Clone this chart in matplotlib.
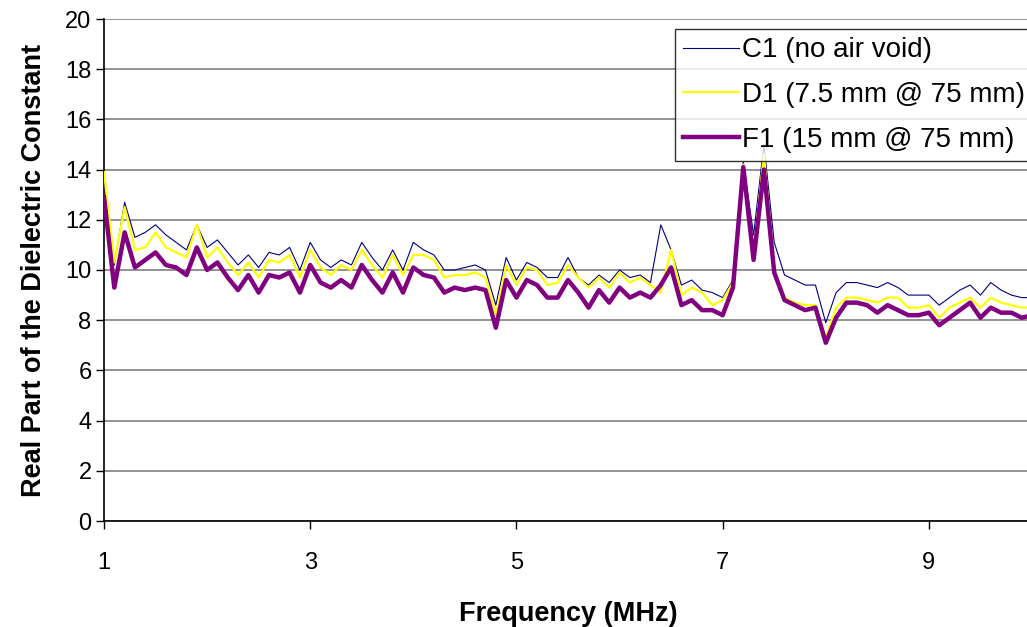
import matplotlib.pyplot as plt
import numpy as np

# frequency in MHz, 0.1 MHz steps
freq = np.round(np.arange(1.0, 10.01, 0.1), 1)

c1 = [13.6, 10.2, 12.7, 11.3, 11.5, 11.8, 11.4, 11.1, 10.8, 11.8,
      10.9, 11.2, 10.7, 10.2, 10.6, 10.1, 10.7, 10.6, 10.9, 10.0,
      11.1, 10.4, 10.1, 10.4, 10.2, 11.1, 10.5, 10.0, 10.8, 10.0,
      11.1, 10.8, 10.6, 10.0, 10.0, 10.1, 10.2, 10.0, 8.6, 10.5,
      9.6, 10.3, 10.1, 9.7, 9.7, 10.5, 9.7, 9.4, 9.8, 9.5,
      10.0, 9.7, 9.8, 9.5, 11.8, 10.8, 9.4, 9.6, 9.2, 9.1,
      8.9, 9.6, 14.3, 11.4, 15.0, 11.1, 9.8, 9.6, 9.4, 9.4,
      7.9, 9.1, 9.5, 9.5, 9.4, 9.3, 9.5, 9.3, 9.0, 9.0,
      9.0, 8.6, 8.9, 9.2, 9.4, 9.0, 9.5, 9.2, 9.0, 8.9,
      8.9]
d1 = [13.9, 10.3, 12.5, 10.8, 10.9, 11.5, 10.9, 10.7, 10.5, 11.8,
      10.5, 10.9, 10.3, 9.8, 10.3, 9.7, 10.4, 10.3, 10.6, 9.7,
      10.8, 10.1, 9.8, 10.2, 10.0, 10.8, 10.2, 9.7, 10.6, 9.8,
      10.6, 10.6, 10.4, 9.7, 9.8, 9.8, 9.9, 9.7, 8.2, 10.2,
      9.4, 10.1, 10.0, 9.4, 9.5, 10.2, 9.7, 9.3, 9.7, 9.3,
      9.9, 9.5, 9.7, 9.4, 9.1, 10.8, 9.0, 9.3, 9.1, 8.6,
      8.8, 9.5, 14.2, 10.6, 14.6, 10.0, 8.9, 8.7, 8.6, 8.6,
      7.3, 8.5, 8.9, 8.9, 8.8, 8.7, 8.9, 8.9, 8.5, 8.5,
      8.6, 8.1, 8.5, 8.7, 8.9, 8.5, 8.9, 8.7, 8.6, 8.5,
      8.5]
f1 = [12.9, 9.3, 11.5, 10.1, 10.4, 10.7, 10.2, 10.1, 9.8, 10.9,
      10.0, 10.3, 9.7, 9.2, 9.8, 9.1, 9.8, 9.7, 9.9, 9.1,
      10.2, 9.5, 9.3, 9.6, 9.3, 10.2, 9.6, 9.1, 9.9, 9.1,
      10.1, 9.8, 9.7, 9.1, 9.3, 9.2, 9.3, 9.2, 7.7, 9.6,
      8.9, 9.6, 9.4, 8.9, 8.9, 9.6, 9.1, 8.5, 9.2, 8.7,
      9.3, 8.9, 9.1, 8.9, 9.4, 10.1, 8.6, 8.8, 8.4, 8.4,
      8.2, 9.3, 14.1, 10.4, 14.0, 9.9, 8.8, 8.6, 8.4, 8.5,
      7.1, 8.1, 8.7, 8.7, 8.6, 8.3, 8.6, 8.4, 8.2, 8.2,
      8.3, 7.8, 8.1, 8.4, 8.7, 8.1, 8.5, 8.3, 8.3, 8.1,
      8.2]

plt.rcParams['font.family'] = ['Liberation Sans', 'DejaVu Sans']

fig = plt.figure(figsize=(10.27, 6.27), dpi=100)
# axes runs slightly past the right edge, as in the reference
ax = fig.add_axes([104/1027, 106/627, 928/1027, 502/627])

ax.plot(freq, c1, color='#000080', lw=0.8, label='C1 (no air void)', zorder=3)
ax.plot(freq, d1, color='#FFFF00', lw=1.6, label='D1 (7.5 mm @ 75 mm)', zorder=4)
ax.plot(freq, f1, color='#800080', lw=3.2, label='F1 (15 mm @ 75 mm)', zorder=5)

ax.set_xlim(1, 10)
ax.set_ylim(0, 20)
ax.set_yticks(np.arange(0, 21, 2))
ax.set_xticks([1, 3, 5, 7, 9])
ax.tick_params(labelsize=17, direction='out', length=6, width=1)
ax.tick_params(axis='y', pad=3)
ax.tick_params(axis='x', pad=16)
ax.yaxis.grid(True, color='#808080', lw=1.2)
ax.set_axisbelow(True)

for s in ['top', 'right']:
    ax.spines[s].set_visible(False)
ax.spines['left'].set_linewidth(1.2)
ax.spines['bottom'].set_linewidth(1.2)

ax.set_xlabel('Frequency (MHz)', fontsize=19.5, fontweight='bold', labelpad=20)
ax.set_ylabel('Real Part of the Dielectric Constant', fontsize=19.5, fontweight='bold', labelpad=13)

leg = ax.legend(loc='upper left', bbox_to_anchor=(571/928, 492/502), fontsize=20,
                frameon=True, fancybox=False, handlelength=2.0, handletextpad=0.1,
                borderpad=0.3, labelspacing=0.67, borderaxespad=0)
leg.get_frame().set_edgecolor('black')
leg.get_frame().set_linewidth(1.0)
leg.set_zorder(10)

plt.savefig('out.png', dpi=100)
